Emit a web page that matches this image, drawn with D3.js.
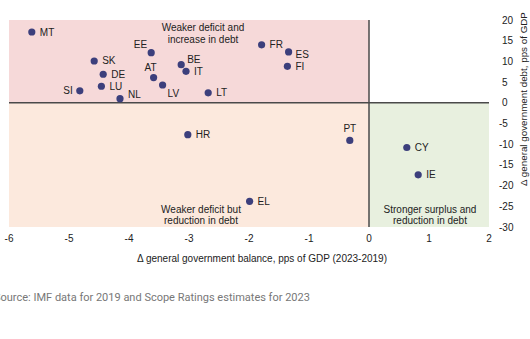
<!DOCTYPE html>
<html>
<head>
    <meta charset="utf-8">
    <title>Balance vs debt</title>
    <script src="https://d3js.org/d3.v7.min.js"></script>
    <style>
        body { margin: 0; background: #fff; }
        svg text { font-family: "Liberation Sans", Arial, sans-serif; }
    </style>
</head>
<body>
    <script>
        // Country codes and their changes 2019 -> 2023
        const countries = ["MT", "SK", "DE", "LU", "SI", "NL", "EE", "AT", "LV", "BE",
                           "IT", "LT", "FR", "ES", "FI", "HR", "EL", "PT", "CY", "IE"];
        const balanceChange = [-5.62, -4.58, -4.43, -4.46, -4.82, -4.15, -3.63, -3.59, -3.44, -3.13,
                               -3.05, -2.68, -1.79, -1.34, -1.36, -3.02, -1.99, -0.32, 0.63, 0.82];
        const debtChange = [17.1, 10.1, 6.9, 4.0, 2.9, 1.0, 12.1, 6.1, 4.3, 9.2,
                            7.6, 2.4, 14.0, 12.3, 8.8, -7.7, -23.8, -9.1, -10.8, -17.4];
        // where each label sits relative to its dot
        const labelPos = ["r", "r", "r", "r", "l", "nl", "ee", "at", "lv", "be",
                          "r", "r", "r", "es", "r", "r", "r", "t", "r", "r"];

        const xTicks = [-6, -5, -4, -3, -2, -1, 0, 1, 2];
        const yTicks = [20, 15, 10, 5, 0, -5, -10, -15, -20, -25, -30];

        const width = 530, height = 339;

        const svg = d3.select("body").append("svg")
            .attr("width", width)
            .attr("height", height);

        const x = d3.scaleLinear().domain([-6, 2]).range([9, 489]);
        const y = d3.scaleLinear().domain([-30, 20]).range([227, 20]);

        // quadrant backgrounds
        const quads = [
            {x0: -6, x1: 0, y0: 20, y1: 0, fill: "#f6d9d9"},
            {x0: -6, x1: 0, y0: 0, y1: -30, fill: "#fce9dd"},
            {x0: 0, x1: 2, y0: 0, y1: -30, fill: "#e8f0df"}
        ];
        svg.selectAll("rect.quad")
            .data(quads)
            .enter().append("rect")
            .attr("class", "quad")
            .attr("x", d => x(d.x0))
            .attr("y", d => y(d.y0))
            .attr("width", d => x(d.x1) - x(d.x0))
            .attr("height", d => y(d.y1) - y(d.y0))
            .attr("fill", d => d.fill);

        // zero lines
        svg.append("line")
            .attr("x1", x(-6)).attr("x2", x(2))
            .attr("y1", y(0)).attr("y2", y(0))
            .attr("stroke", "#4a4a4a").attr("stroke-width", 1.5);
        svg.append("line")
            .attr("x1", x(0)).attr("x2", x(0))
            .attr("y1", y(20)).attr("y2", y(-30))
            .attr("stroke", "#4a4a4a").attr("stroke-width", 1.5);

        // x tick labels
        svg.selectAll("text.xtick")
            .data(xTicks)
            .enter().append("text")
            .attr("class", "xtick")
            .attr("x", d => x(d))
            .attr("y", 242)
            .attr("text-anchor", "middle")
            .attr("font-size", 10)
            .attr("fill", "#222")
            .text(d => d);

        // y tick labels on the right
        svg.selectAll("text.ytick")
            .data(yTicks)
            .enter().append("text")
            .attr("class", "ytick")
            .attr("x", d => d < 0 ? 499 : 502)
            .attr("y", d => y(d) + 3.5)
            .attr("font-size", 10)
            .attr("fill", "#222")
            .text(d => d);

        svg.append("text")
            .attr("x", 262)
            .attr("y", 262)
            .attr("text-anchor", "middle")
            .attr("font-size", 10)
            .attr("fill", "#222")
            .text("\u0394 general government balance, pps of GDP (2023-2019)");

        svg.append("text")
            .attr("transform", "translate(527,99) rotate(-90)")
            .attr("text-anchor", "middle")
            .attr("font-size", 9.8)
            .attr("fill", "#222")
            .text("\u0394 general government debt, pps of GDP");

        // quadrant annotations
        const notes = [
            {cx: 203, cy: 27.5, lines: ["Weaker deficit and", "increase in debt"]},
            {cx: 201, cy: 209, lines: ["Weaker deficit but", "reduction in debt"]},
            {cx: 430, cy: 209, lines: ["Stronger surplus and", "reduction in debt"]}
        ];
        notes.forEach(n => {
            n.lines.forEach((t, i) => {
                svg.append("text")
                    .attr("x", n.cx)
                    .attr("y", n.cy + i * 11.5 + 3.5)
                    .attr("text-anchor", "middle")
                    .attr("font-size", 10)
                    .attr("fill", "#222")
                    .text(t);
            });
        });

        const points = countries.map((c, i) => ({
            name: c, bx: balanceChange[i], dy: debtChange[i], pos: labelPos[i]
        }));

        svg.selectAll("circle.dot")
            .data(points)
            .enter().append("circle")
            .attr("class", "dot")
            .attr("cx", d => x(d.bx))
            .attr("cy", d => y(d.dy))
            .attr("r", 3.6)
            .attr("fill", "#3c3f7c");

        // label offsets: [dx, dy, anchor]
        const offsets = {
            r:  [8, 3.5, "start"],
            l:  [-7, 3.5, "end"],
            nl: [8, -1, "start"],
            ee: [-4, -5, "end"],
            at: [-3, -7, "middle"],
            lv: [5, 12, "start"],
            be: [6, -2, "start"],
            es: [7, 6, "start"],
            t:  [0, -8, "middle"]
        };

        svg.selectAll("text.lab")
            .data(points)
            .enter().append("text")
            .attr("class", "lab")
            .attr("x", d => x(d.bx) + offsets[d.pos][0])
            .attr("y", d => y(d.dy) + offsets[d.pos][1])
            .attr("text-anchor", d => offsets[d.pos][2])
            .attr("font-size", 10)
            .attr("fill", "#222")
            .text(d => d.name);

        // source line, starts just past the left edge
        svg.append("text")
            .attr("x", -6)
            .attr("y", 301)
            .style("font-family", "Roboto, sans-serif")
            .attr("font-size", 11)
            .attr("fill", "#777")
            .text("Source: IMF data for 2019 and Scope Ratings estimates for 2023");
    </script>
</body>
</html>
